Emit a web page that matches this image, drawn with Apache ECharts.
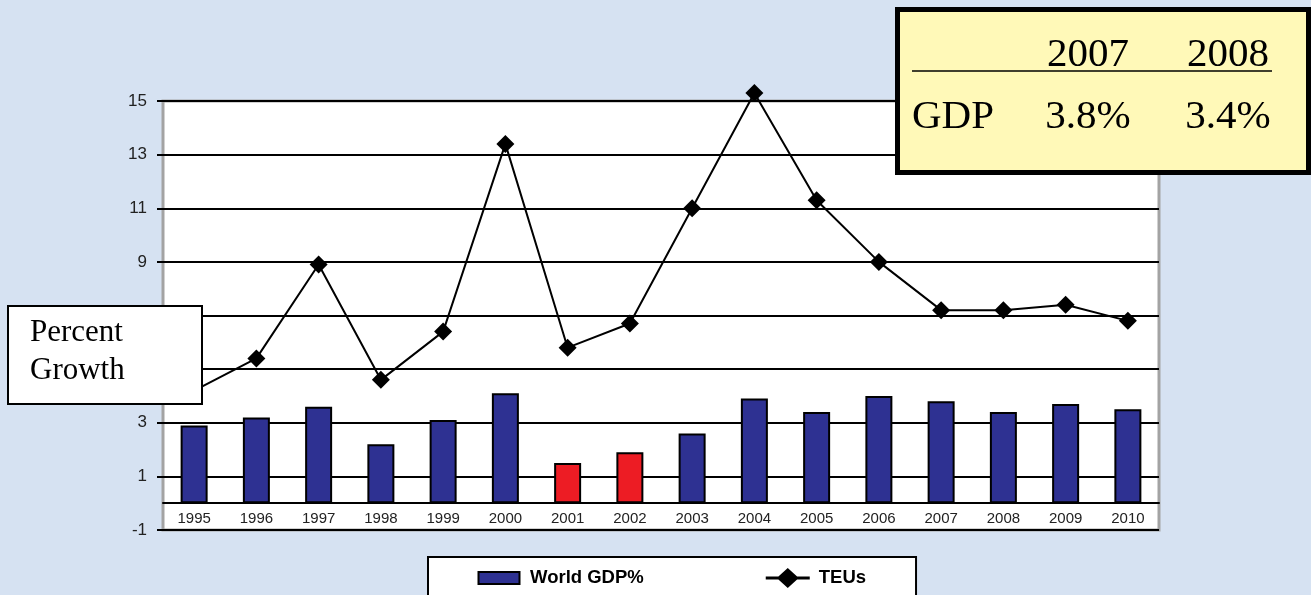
<!DOCTYPE html>
<html>
<head>
<meta charset="utf-8">
<script src="https://cdn.jsdelivr.net/npm/echarts@6/dist/echarts.min.js"></script>
<style>
  html, body { margin: 0; padding: 0; background: #D6E2F2; }
  #chart { width: 1311px; height: 595px; }
</style>
</head>
<body>
<div id="chart"></div>
<script>
const years = ['1995', '1996', '1997', '1998', '1999', '2000', '2001', '2002',
  '2003', '2004', '2005', '2006', '2007', '2008', '2009', '2010']
const worldGdp = [2.9, 3.2, 3.6, 2.2, 3.1, 4.1, 1.5, 1.9, 2.6, 3.9, 3.4, 4.0, 3.8, 3.4, 3.7, 3.5]
const teus = [4.2, 5.4, 8.9, 4.6, 6.4, 13.4, 5.8, 6.7, 11.0, 15.3, 11.3, 9.0, 7.2, 7.2, 7.4, 6.8]
// years drawn in red (slowdown)
const slowYears = ['2001', '2002']
const tableYears = ['2007', '2008']
const tableGdp = ['3.8%', '3.4%']

const SANS = '"Liberation Sans", Arial, sans-serif'
const SERIF = '"Liberation Serif", "Times New Roman", serif'

const chart = echarts.init(document.getElementById('chart'))

const tableX = [1088, 1228]
const overlay = (el) => Object.assign({ z: 100 }, el)

chart.setOption({
  backgroundColor: '#D6E2F2',
  animation: false,
  grid: {
    left: 163,
    right: 152,
    top: 101,
    bottom: 65,
    show: true,
    backgroundColor: '#fff',
    borderColor: '#A3A3A3',
    borderWidth: 3
  },
  legend: {
    left: 428,
    top: 557,
    padding: [10, 50, 20, 48],
    itemGap: 122,
    itemWidth: 44,
    itemHeight: 20,
    backgroundColor: '#fff',
    borderColor: '#000',
    borderWidth: 2,
    borderRadius: 0,
    textStyle: { fontFamily: SANS, fontWeight: 'bold', fontSize: 18.5, color: '#000', padding: [0, 0, 0, 4] },
    data: [
      { name: 'World GDP%', icon: 'path://M0,0 M1.5,4 L42.5,4 L42.5,16 L1.5,16 Z M44,20' },
      { name: 'TEUs', icon: 'path://M0,8.5 L44,8.5 L44,11.5 L0,11.5 Z M22,0 L33,10 L22,20 L11,10 Z' }
    ]
  },
  xAxis: {
    type: 'category',
    data: years,
    axisLine: { onZero: true, lineStyle: { color: '#000', width: 2 } },
    axisTick: { show: false },
    axisLabel: { fontFamily: SANS, fontSize: 15, color: '#222', margin: -19 },
    splitLine: { show: false }
  },
  yAxis: {
    type: 'value',
    min: -1,
    max: 15,
    interval: 2,
    axisLine: { show: false },
    axisTick: { show: true, length: 6, lineStyle: { color: '#000', width: 2 } },
    axisLabel: { fontFamily: SANS, fontSize: 17, color: '#222', margin: 16 },
    splitLine: { lineStyle: { color: '#000', width: 2 } }
  },
  series: [
    {
      name: 'World GDP%',
      type: 'bar',
      barWidth: 27,
      itemStyle: { color: '#2E3192', borderColor: '#000', borderWidth: 2 },
      data: worldGdp.map((v, i) => slowYears.includes(years[i])
        ? { value: v, itemStyle: { color: '#ED1C24' } }
        : v)
    },
    {
      name: 'TEUs',
      type: 'line',
      clip: false,
      z: 5,
      symbol: 'diamond',
      symbolSize: 18,
      itemStyle: { color: '#000' },
      lineStyle: { color: '#000', width: 2 },
      data: teus
    }
  ],
  graphic: [
    overlay({
      type: 'rect',
      shape: { x: 8, y: 306, width: 194, height: 98 },
      style: { fill: '#fff', stroke: '#000', lineWidth: 2 }
    }),
    overlay({
      type: 'text',
      x: 30, y: 333,
      style: { text: 'Percent', font: '31px ' + SERIF, fill: '#000', verticalAlign: 'middle' }
    }),
    overlay({
      type: 'text',
      x: 30, y: 371,
      style: { text: 'Growth', font: '31px ' + SERIF, fill: '#000', verticalAlign: 'middle' }
    }),
    overlay({
      type: 'rect',
      shape: { x: 897.5, y: 9.5, width: 411, height: 163 },
      style: { fill: '#FFF9B8', stroke: '#000', lineWidth: 5 }
    }),
    overlay({
      type: 'line',
      shape: { x1: 912, y1: 71, x2: 1272, y2: 71 },
      style: { stroke: '#000', lineWidth: 1.5 }
    }),
    ...tableYears.map((t, i) => overlay({
      type: 'text',
      x: tableX[i], y: 55,
      style: { text: t, font: '41px ' + SERIF, fill: '#000', align: 'center', verticalAlign: 'middle' }
    })),
    overlay({
      type: 'text',
      x: 912, y: 117,
      style: { text: 'GDP', font: '41px ' + SERIF, fill: '#000', verticalAlign: 'middle' }
    }),
    ...tableGdp.map((t, i) => overlay({
      type: 'text',
      x: tableX[i], y: 117,
      style: { text: t, font: '41px ' + SERIF, fill: '#000', align: 'center', verticalAlign: 'middle' }
    }))
  ]
})
</script>
</body>
</html>
